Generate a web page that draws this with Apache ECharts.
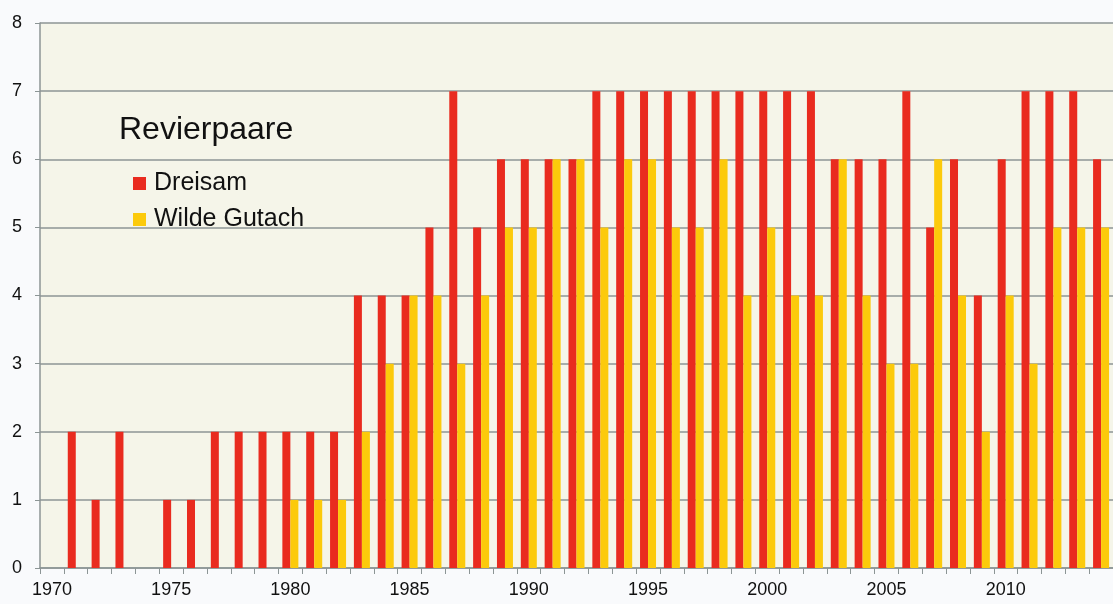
<!DOCTYPE html>
<html>
<head>
<meta charset="utf-8">
<script src="https://cdn.jsdelivr.net/npm/echarts@6/dist/echarts.min.js"></script>
<style>
  html, body { margin: 0; padding: 0; background: #f9fafc; }
  #chart { width: 1113px; height: 604px; }
</style>
</head>
<body>
<div id="chart"></div>
<script>
// Revierpaare per year
const years = []
for (let y = 1970; y <= 2014; y++) years.push(String(y))

const dreisam = [0, 2, 1, 2, 0, 1, 1, 2, 2, 2,
    2, 2, 2, 4, 4, 4, 5, 7, 5, 6,
    6, 6, 6, 7, 7, 7, 7, 7, 7, 7,
    7, 7, 7, 6, 6, 6, 7, 5, 6, 4,
    6, 7, 7, 7, 6]

const wildeGutach = [0, 0, 0, 0, 0, 0, 0, 0, 0, 0,
    1, 1, 1, 2, 3, 4, 4, 3, 4, 5,
    5, 6, 6, 5, 6, 6, 5, 5, 6, 4,
    5, 4, 4, 6, 4, 3, 3, 6, 4, 2,
    4, 3, 5, 5, 5]

const gray = "#8c9595"
const font = "Liberation Sans, Arial, sans-serif"

const chart = echarts.init(document.getElementById("chart"))

chart.setOption({
    animation: false,
    backgroundColor: "#f9fafc",
    textStyle: { fontFamily: font },
    title: {
        text: "Revierpaare",
        left: 114,
        top: 109,
        textStyle: { fontSize: 32, fontWeight: "normal", color: "#111", fontFamily: font }
    },
    legend: {
        orient: "vertical",
        left: 128,
        top: 166,
        icon: "rect",
        itemWidth: 13,
        itemHeight: 13,
        itemGap: 11,
        textStyle: { fontSize: 25, color: "#111", fontFamily: font, padding: [0, 0, 0, 3] }
    },
    grid: {
        left: 40,
        top: 23,
        width: 1080,
        height: 545,
        show: true,
        backgroundColor: "#f5f5e9",
        borderWidth: 0
    },
    xAxis: {
        type: "category",
        data: years,
        axisLine: { lineStyle: { color: gray, width: 1.5 } },
        axisTick: { show: true, interval: 0, length: 6, lineStyle: { color: gray } },
        axisLabel: { interval: 4, fontSize: 18, color: "#111", margin: 13 }
    },
    yAxis: {
        type: "value",
        min: 0,
        max: 8,
        interval: 1,
        axisLine: { show: true, lineStyle: { color: gray, width: 1.5 } },
        axisTick: { show: true, length: 5, lineStyle: { color: gray } },
        axisLabel: { fontSize: 18, color: "#111", margin: 18 },
        splitLine: { lineStyle: { color: gray, width: 1.5 } }
    },
    series: [
        {
            name: "Dreisam",
            type: "bar",
            data: dreisam,
            barWidth: 8,
            barGap: "0%",
            itemStyle: { color: "#e92b1f" }
        },
        {
            name: "Wilde Gutach",
            type: "bar",
            data: wildeGutach,
            barWidth: 8,
            itemStyle: { color: "#fcca0b" }
        }
    ]
})
</script>
</body>
</html>
